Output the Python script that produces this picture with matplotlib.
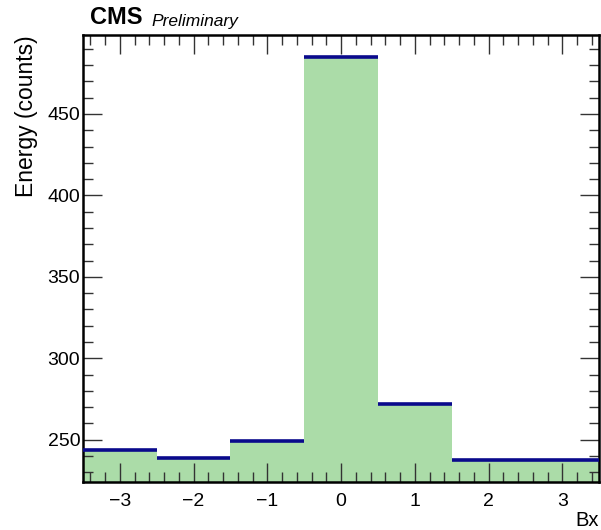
import numpy as np
import matplotlib
matplotlib.use("Agg")
import matplotlib.pyplot as plt
from matplotlib.ticker import MultipleLocator

# bunch crossing offsets and summed energy per bin
bx = [-3, -2, -1, 0, 1, 2, 3]
energia = [243.4, 238.5, 249.5, 485.0, 271.9, 237.3, 237.3]

plt.rcParams['font.family'] = ['Liberation Sans', 'DejaVu Sans']

fig = plt.figure(figsize=(6.01, 5.30), dpi=100)
ax = fig.add_axes([0.138, 0.091, 0.859, 0.843])

ymin, ymax = 224.2, 498.5
largura = 1.0
for x, e in zip(bx, energia):
    ax.bar(x, e - ymin, bottom=ymin, width=largura, color='#abdca8',
           edgecolor='none', zorder=1)
ax.hlines(energia, np.array(bx) - largura / 2, np.array(bx) + largura / 2,
          colors='#0a0a8c', linewidth=2.6, zorder=3)

ax.set_xlim(-3.5, 3.5)
ax.set_ylim(ymin, ymax)

ax.xaxis.set_major_locator(MultipleLocator(1))
ax.xaxis.set_minor_locator(MultipleLocator(0.2))
ax.yaxis.set_major_locator(MultipleLocator(50))
ax.yaxis.set_minor_locator(MultipleLocator(10))
ax.tick_params(which='both', direction='in', top=True, right=True,
               labelsize=14, width=1.0, color='#333333')
ax.tick_params(which='major', length=14)
ax.tick_params(which='minor', length=7)
ax.tick_params(axis='x', which='major', pad=8)
ax.tick_params(axis='y', which='major', pad=2)
for s in ax.spines.values():
    s.set_linewidth(1.8)

ax.set_xlabel('Bx', fontsize=14.5, loc='right', labelpad=1)
ax.set_ylabel('Energy (counts)', fontsize=16.5, loc='top', labelpad=7)

fig.text(0.150, 0.945, 'CMS', fontsize=17, fontweight='bold', va='bottom')
fig.text(0.252, 0.945, 'Preliminary', fontsize=12.5, style='italic', va='bottom')

fig.savefig('out.png', dpi=100)
